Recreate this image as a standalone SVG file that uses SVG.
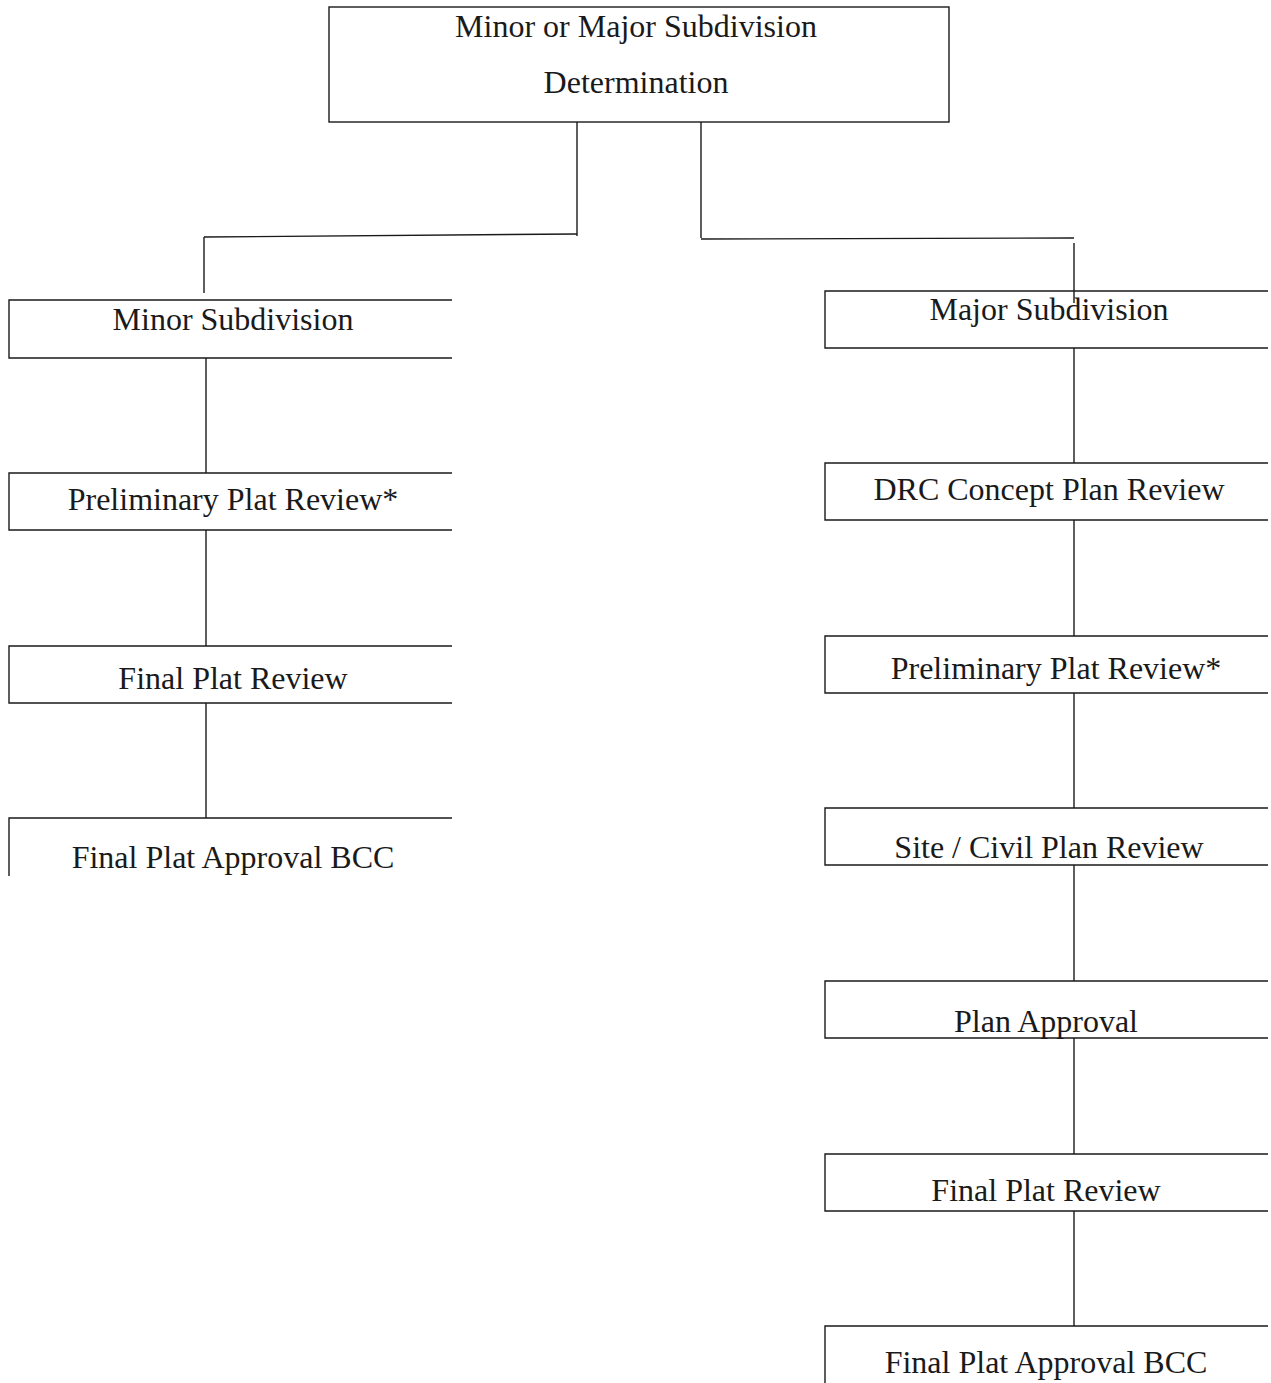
<svg xmlns="http://www.w3.org/2000/svg" width="1271" height="1383" viewBox="0 0 1271 1383">
<style>
.ln{fill:none;stroke:#1a1a1a;stroke-width:1.4}
.t{font-family:"Liberation Serif","Times New Roman",serif;font-size:32px;fill:#1a1a1a;text-anchor:middle}
</style>
<rect width="1271" height="1383" fill="#fff"/>
<g id="connectors">
<path class="ln" d="M577,122 V236"/>
<path class="ln" d="M204,237 L577,234"/>
<path class="ln" d="M204,237 V293"/>
<path class="ln" d="M701,122 V238"/>
<path class="ln" d="M701,239 L1074,238"/>
<path class="ln" d="M1074,243 V303"/>
<path class="ln" d="M206,358 V473"/>
<path class="ln" d="M206,530 V646"/>
<path class="ln" d="M206,703 V818"/>
<path class="ln" d="M1074,348 V463"/>
<path class="ln" d="M1074,520 V636"/>
<path class="ln" d="M1074,693 V808"/>
<path class="ln" d="M1074,865 V981"/>
<path class="ln" d="M1074,1038 V1154"/>
<path class="ln" d="M1074,1211 V1326"/>
</g>
<g id="n-top">
<rect class="ln" x="329" y="7" width="620" height="115"/>
<text class="t" x="636" y="37">Minor or Major Subdivision</text>
<text class="t" x="636" y="93">Determination</text>
</g>
<g id="n-minor">
<path class="ln" d="M452,300 H9 V358 H452"/>
<text class="t" x="233" y="330">Minor Subdivision</text>
</g>
<g id="n-minor-prelim">
<path class="ln" d="M452,473 H9 V530 H452"/>
<text class="t" x="233" y="510">Preliminary Plat Review*</text>
</g>
<g id="n-minor-final">
<path class="ln" d="M452,646 H9 V703 H452"/>
<text class="t" x="233" y="689">Final Plat Review</text>
</g>
<g id="n-minor-approval">
<path class="ln" d="M452,818 H9 V876"/>
<text class="t" x="233" y="868">Final Plat Approval BCC</text>
</g>
<g id="n-major">
<path class="ln" d="M1268,291 H825 V348 H1268"/>
<text class="t" x="1049" y="320">Major Subdivision</text>
</g>
<g id="n-drc">
<path class="ln" d="M1268,463 H825 V520 H1268"/>
<text class="t" x="1049" y="500">DRC Concept Plan Review</text>
</g>
<g id="n-major-prelim">
<path class="ln" d="M1268,636 H825 V693 H1268"/>
<text class="t" x="1056" y="679">Preliminary Plat Review*</text>
</g>
<g id="n-site">
<path class="ln" d="M1268,808 H825 V865 H1268"/>
<text class="t" x="1049" y="858">Site / Civil Plan Review</text>
</g>
<g id="n-plan">
<path class="ln" d="M1268,981 H825 V1038 H1268"/>
<text class="t" x="1046" y="1032">Plan Approval</text>
</g>
<g id="n-major-final">
<path class="ln" d="M1268,1154 H825 V1211 H1268"/>
<text class="t" x="1046" y="1201">Final Plat Review</text>
</g>
<g id="n-major-approval">
<path class="ln" d="M1268,1326 H825 V1383"/>
<text class="t" x="1046" y="1373">Final Plat Approval BCC</text>
</g>
</svg>
